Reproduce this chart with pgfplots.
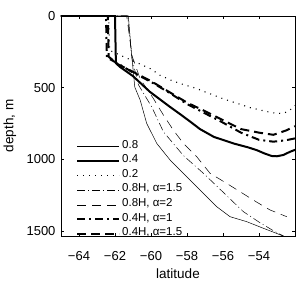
\documentclass[border=0pt]{standalone}
\usepackage{fontspec}
\setmainfont{Liberation Sans}
\usepackage{pgfplots}
\pgfplotsset{compat=1.18}
\begin{document}
\begin{tikzpicture}
\path[use as bounding box] (-61pt,-50pt) rectangle (245pt,236pt);
\begin{axis}[
  at={(0pt,0pt)}, anchor=south west,
  scale only axis, width=234pt, height=220pt,
  xmin=-65, xmax=-52, ymin=0, ymax=1537,
  y dir=reverse,
  xtick={-64,-62,-60,-58,-56,-54},
  xticklabels={−64,−62,−60,−58,−56,−54},
  ytick={0,500,1000,1500},
  yticklabels={0,500,1000,1500},
  tick align=inside, major tick length=3pt,
  tick style={black, line width=0.4pt},
  axis line style={line width=0.5pt},
  ticklabel style={font=\fontsize{13}{15}\selectfont},
  xticklabel style={yshift=-12pt},
  yticklabel style={xshift=-2pt},
  xlabel={latitude}, ylabel={depth, m},
  label style={font=\fontsize{13.5}{15}\selectfont},
  xlabel style={at={(axis description cs:0.5,-0.173)}, anchor=center},
  ylabel style={at={(axis description cs:-0.218,0.5)}, anchor=center},
  legend style={draw=none, fill=none, at={(axis description cs:0.064,-0.025)}, anchor=south west,
     inner sep=0pt, font=\fontsize{11.5}{13}\selectfont, row sep=0pt,
     nodes={inner sep=0pt, text height=9pt, text depth=5.6pt}},
  legend cell align=left,
  legend image code/.code={\draw[#1] (0pt,0pt) -- (42pt,0pt);},
]
\addplot[black, line width=0.5pt] coordinates {
(-65,0) (-61.26,0) (-61.1,240) (-60.9,497) (-60.6,588) (-60.24,750) (-59.68,890) (-58.94,1006)
(-58.02,1123) (-57.46,1193) (-56.72,1286) (-56.35,1332) (-55.61,1402) (-54.68,1437) (-53.76,1483) (-53.2,1510) (-52.6,1540)};
\addlegendentry{\hspace{2pt}0.8}
\addplot[black, line width=2pt] coordinates {
(-65,0) (-62.0,0) (-61.95,330) (-61.72,356) (-61.0,420) (-60.06,530) (-59.0,630) (-58.39,685)
(-57.8,740) (-57.28,790) (-56.5,845) (-55.4,891) (-54.6,918) (-54.13,937) (-53.7,960) (-53.3,978) (-53.0,980) (-52.65,971) (-52.3,950) (-52.0,935)};
\addlegendentry{\hspace{2pt}0.4}
\addplot[black, line width=1.1pt, dash pattern=on 1pt off 5pt] coordinates {
(-65,0) (-62.35,0) (-62.3,240) (-61.6,280) (-60.8,325) (-60.0,370) (-59.5,414) (-58.9,448) (-58.4,471)
(-57.5,505) (-57.0,530) (-56.0,578) (-55.2,611) (-54.5,640) (-53.9,658) (-53.4,672) (-53.0,681) (-52.6,678) (-52.3,660) (-52.0,625)};
\addlegendentry{\hspace{2pt}0.2}
\addplot[black, line width=0.5pt, dash pattern=on 8pt off 3pt on 1pt off 3pt] coordinates {
(-65,0) (-61.3,0) (-61.05,300) (-60.7,480) (-59.96,635) (-59.31,809) (-58.7,900) (-58.2,975) (-57.09,1099)
(-56.0,1230) (-54.87,1367) (-54.0,1440) (-53.2,1500) (-52.6,1540)};
\addlegendentry{\hspace{2pt}0.8H, α=1.5}
\addplot[black, line width=0.5pt, dash pattern=on 9pt off 6pt] coordinates {
(-65,0) (-61.35,0) (-61.05,280) (-60.6,440) (-59.9,570) (-59.31,692) (-58.76,797) (-58.2,890) (-57.46,983)
(-56.72,1099) (-55.8,1169) (-55.06,1227) (-54.2,1295) (-53.39,1355) (-52.46,1402)};
\addlegendentry{\hspace{2pt}0.8H, α=2}
\addplot[black, line width=2pt, dash pattern=on 8pt off 4pt on 2pt off 4pt] coordinates {
(-65,0) (-62.5,0) (-62.45,290) (-61.8,335) (-61.0,395) (-60.0,460) (-59.0,535) (-58.0,615) (-57.0,680)
(-56.0,745) (-55.0,815) (-54.0,865) (-53.2,878) (-52.5,868) (-52.0,855)};
\addlegendentry{\hspace{2pt}0.4H, α=1}
\addplot[black, line width=2pt, dash pattern=on 9pt off 5pt] coordinates {
(-65,0) (-62.4,0) (-62.35,285) (-61.8,340) (-61.0,390) (-60.0,455) (-59.0,530) (-58.0,605) (-57.0,665)
(-56.0,728) (-55.0,790) (-54.0,815) (-53.2,830) (-52.5,800) (-52.0,770)};
\addlegendentry{\hspace{2pt}0.4H, α=1.5}
\end{axis}
\end{tikzpicture}
\end{document}
